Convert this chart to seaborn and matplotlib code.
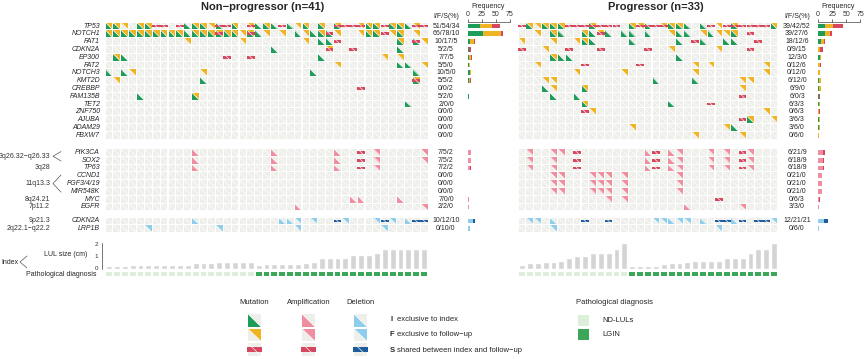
import numpy as np
import seaborn as sns
import matplotlib
matplotlib.use("Agg")
import matplotlib.pyplot as plt
import matplotlib.transforms as mtransforms
from matplotlib.patches import Polygon, Rectangle
from matplotlib.collections import PatchCollection, LineCollection
from matplotlib.colors import ListedColormap

# ---- data -------------------------------------------------------------
genes = ["TP53", "NOTCH1", "FAT1", "CDKN2A", "EP300", "FAT2", "NOTCH3", "KMT2D",
         "CREBBP", "FAM135B", "TET2", "ZNF750", "AJUBA", "ADAM29", "FBXW7",
         "PIK3CA", "SOX2", "TP63", "CCND1", "FGF3/4/19", "MIR548K", "MYC", "EGFR",
         "CDKN2A", "LRP1B"]
kinds = ["mut"] * 15 + ["amp"] * 8 + ["del"] * 2
cytobands = {"3q26.32−q26.33": (15, 16), "3q28": (17, 17), "11q13.3": (18, 20),
             "8q24.21": (21, 21), "7p11.2": (22, 22), "9p21.3": (23, 23),
             "2q22.1−q22.2": (24, 24)}

n_np, n_p = 41, 33

# cell events: "<column><code>"  i=index, f=follow-up, b=both, s=shared,
# j=shared+index, g=shared+follow-up, a=shared+index+follow-up
np_events = [
    "0b 1b 2f 4b 5b 6s 7s 9s 10i 11b 12b 13f 14j 15s 16b 18g 19i 20b 21i 22s 23i 24f 25b 27b 29a 30s 31s 32g 33b 34b 35s 36b 37b 38i 39g 40s",
    "0b 1b 2b 3b 4b 5b 6b 7b 8b 9b 10i 11b 12b 13b 14a 15b 16b 17f 18a 19i 20f 22f 24i 25f 26i 27b 28j 29f 32f 33b 34b 35s 36f 37b 39f",
    "10f 17f 25f 27i 28i 29s 37b 39j 40f",
    "21i 28g 31s 37i",
    "1b 2i 15s 18s 27i 35f 37f",
    "29f 37i 38i 40f",
    "0i 2i 3f 12f 26i 39i",
    "1f 12i 39a",
    "32s",
    "4i 11b",
    "38i",
    "", "", "", "",
    "11i 21i 29i 32s 34f 40f",
    "11i 21i 29i 32s 34f 40f",
    "11i 21i 29i 32s 34f",
    "", "", "",
    "31i 32i 37i",
    "24i 40f",
    "11i 22i 23i 24f 26f 29s 30f 34f 35s 36f 38i 39s 40s",
    "5f 14f 24f 35f",
]
p_events = [
    "0s 1b 2f 3b 4b 5b 6s 7s 8s 9a 10s 11s 12s 14b 15g 16j 17s 18g 19b 20b 21i 23i 24s 25f 26s 27a 28s 29s 30s 31s 32b",
    "2f 4b 5i 8b 9i 10g 11i 13i 14i 16i 19f 20i 21i 23f 24i 25f 26f 27b 29s",
    "0f 4f 7f 8b 9i 14i 20i 22s 23i 26i 27i 30s",
    "0s 3f 6s 10s 16s 19f 25f 29s",
    "4b 5i 6i 20i",
    "2f 8s 15s 22f 24f 31f",
    "7f 13f 22f 31f",
    "3f 4f 17i 22i 28f 29f",
    "3i 4f 8b 28f",
    "4i 7i 28s",
    "8b 19i 24s",
    "8s 9f 31f",
    "28s 29b 32f",
    "14f 26f 27i",
    "22f 28f",
    "1f 4f 5f 7s 16i 17s 19i 20f 24f 26f 28s 29f",
    "1f 4f 7s 16i 17s 19i 20f 24f 26f 28s 29f",
    "1f 4f 7s 16i 17s 19i 20f 24f 26f 28s 29f",
    "4f 5f 9f 10f 11f 13f 20f",
    "4f 5f 9f 10f 11f 13f 20f",
    "4f 5f 9f 10f 11f 13f 20f",
    "11f 13f 25s",
    "21i 28f",
    "1f 2f 4i 8s 11s 17f 18f 19i 20f 21f 23i 25s 26s 27i 28s 30s 31s 32f",
    "4f 25f",
]

np_ifs = ["51/54/34", "66/78/10", "10/17/5", "5/2/5", "7/7/5", "5/5/0", "10/5/0", "5/5/2",
          "0/0/2", "5/2/0", "2/0/0", "0/0/0", "0/0/0", "0/0/0", "0/0/0",
          "7/5/2", "7/5/2", "7/2/2", "0/0/0", "0/0/0", "0/0/0", "7/0/0", "2/2/0",
          "10/12/10", "0/10/0"]
p_ifs = ["39/42/52", "39/27/6", "18/12/6", "0/9/15", "12/3/0", "0/12/6", "0/12/0", "6/12/0",
         "6/9/0", "6/0/3", "6/3/3", "0/6/3", "3/6/3", "3/6/0", "0/6/0",
         "6/21/9", "6/18/9", "6/18/9", "0/21/0", "0/21/0", "0/21/0", "0/6/3", "3/3/0",
         "12/21/21", "0/6/0"]

np_size = [0.18, 0.18, 0.18, 0.31, 0.31, 0.31, 0.31, 0.31, 0.31, 0.31, 0.31,
           0.44, 0.44, 0.44, 0.55, 0.55, 0.55, 0.55, 0.55,
           0.29, 0.34, 0.34, 0.34, 0.34, 0.34, 0.44, 0.52, 0.83, 0.83, 0.83, 0.83,
           1.09, 1.09, 1.09, 1.27, 1.56, 1.56, 1.56, 1.56, 1.56, 1.56]
p_size = [0.31, 0.44, 0.44, 0.52, 0.52, 0.62, 0.83, 1.04, 1.04, 1.22, 1.22, 1.22, 1.56, 2.08,
          0.23, 0.23, 0.23, 0.23, 0.36, 0.44, 0.44, 0.52, 0.57, 0.62, 0.62, 0.62,
          0.83, 0.83, 0.83, 1.22, 1.56, 1.56, 2.08]
np_diag = [0] * 19 + [1] * 22   # 0 = ND-LULs, 1 = LGIN
p_diag = [0] * 14 + [1] * 19

# ---- style ------------------------------------------------------------
palette = {"mut": ("#1E9C5A", "#F0B323", "#D7465F"),
           "amp": ("#EE8E9E", "#EE8E9E", "#D7465F"),
           "del": ("#8ECDEB", "#8ECDEB", "#1F5C9E")}
diag_cmap = ListedColormap(["#DCEFD8", "#3BA657"])
row_pos = list(range(15)) + [16.2 + k for k in range(8)] + [25, 26]

sns.set_style("white")
plt.rcParams["font.family"] = ["Liberation Sans", "DejaVu Sans"]

W, H = 865, 359


def rect(x0, y0, x1, y1):
    return [x0 / W, 1 - y1 / H, (x1 - x0) / W, (y1 - y0) / H]


def parse(spec, n):
    row = ["."] * n
    for tok in spec.split():
        row[int(tok[:-1])] = tok[-1]
    return row


def draw_block(ax, specs, knds, ys, n):
    ins = 0.07
    bg, diag, tris, tri_c, bars, bar_c = [], [], [], [], [], []
    for spec, kd, y in zip(specs, knds, ys):
        ci, cf, cs = palette[kd]
        for c, code in enumerate(parse(spec, n)):
            L, R = c - 0.5 + ins, c + 0.5 - ins
            T, B = y - 0.5 + ins, y + 0.5 - ins
            bg.append(Rectangle((L, T), R - L, B - T))
            diag.append([(L, T), (R, B)])
            if code in "ibja":
                tris.append(Polygon([(L, T), (L, B), (R, B)]))
                tri_c.append(ci)
            if code in "fbga":
                tris.append(Polygon([(L, T), (R, T), (R, B)]))
                tri_c.append(cf)
            if code in "sjga":
                bars.append(Rectangle((c - 0.49, y - 0.18), 0.98, 0.36))
                bar_c.append(cs)
    ax.add_collection(PatchCollection(bg, facecolor="#EEEEEA", edgecolor="none"))
    ax.add_collection(PatchCollection(tris, facecolor=tri_c, edgecolor="none"))
    ax.add_collection(LineCollection(diag, colors="white", linewidths=0.45))
    ax.add_collection(PatchCollection(bars, facecolor=bar_c, edgecolor="none"))


def draw_freq(ax, ifs, n):
    vals = np.array([[round(int(v) * n / 100) for v in s.split("/")] for s in ifs])
    left = np.zeros(len(ifs))
    for k in range(3):
        ax.barh(row_pos, vals[:, k], left=left, height=0.62,
                color=[palette[kd][k] for kd in kinds], linewidth=0)
        left += vals[:, k]
    ax.set_xlim(0, 75)
    ax.set_ylim(26.5, -0.5)
    for side in ["left", "right", "bottom"]:
        ax.spines[side].set_visible(False)
    ax.spines["top"].set_linewidth(0.5)
    ax.spines["top"].set_color("#444444")
    ax.set_xticks([0, 25, 50, 75])
    ax.set_yticks([])
    ax.tick_params(axis="x", top=True, bottom=False, labeltop=True, labelbottom=False,
                   length=2, width=0.5, pad=1, labelsize=5, colors="#333333")


fig = plt.figure(figsize=(W / 100, H / 100), dpi=100)
overlay = fig.add_axes([0, 0, 1, 1])
overlay.set_xlim(0, W)
overlay.set_ylim(H, 0)
overlay.axis("off")

groups = [
    ("Non−progressor (n=41)", n_np, np_events, np_ifs, np_size, np_diag, 105, 467.7, 446, 263),
    ("Progressor (n=33)", n_p, p_events, p_ifs, p_size, p_diag, 518, 818, 797, 656),
]
pitch = 7.88
for title, n, events, ifs, sizes, dg, x0, fx0, ifs_x, tx in groups:
    x1 = x0 + n * pitch
    ax = fig.add_axes(rect(x0, 22.1, x1, 232.7))
    draw_block(ax, events, kinds, row_pos, n)
    ax.set_xlim(-0.5, n - 0.5)
    ax.set_ylim(26.5, -0.5)
    ax.axis("off")
    trans = mtransforms.blended_transform_factory(overlay.transData, ax.transData)

    overlay.text(tx, 6.5, title, ha="center", va="center", fontsize=8, fontweight="bold")
    overlay.text(ifs_x, 16.5, "I/F/S(%)", ha="center", va="center", fontsize=5)
    for lab, y in zip(ifs, row_pos):
        ax.text(ifs_x, y, lab, transform=trans, ha="center", va="center", fontsize=5)

    fax = fig.add_axes(rect(fx0, 22.1, fx0 + 42.3, 232.7))
    draw_freq(fax, ifs, n)
    overlay.text(fx0 + 20, 6.5, "Frequency", ha="center", va="center", fontsize=5)

    bax = fig.add_axes(rect(x0, 242.5, x1, 268.5))
    sns.barplot(x=np.arange(n), y=sizes, ax=bax, color="#D4D4D4", saturation=1,
                width=0.75, errorbar=None)
    bax.set_xlim(-0.5, n - 0.5)
    bax.set_ylim(0, 2.1)
    bax.set_xlabel("")
    bax.set_ylabel("")
    bax.set_xticks([])
    for side in ["top", "right", "bottom"]:
        bax.spines[side].set_visible(False)
    if x0 == 105:
        bax.spines["left"].set_position(("outward", 2))
        bax.spines["left"].set_linewidth(0.5)
        bax.spines["left"].set_color("#444444")
        bax.set_yticks([0, 1, 2])
        bax.tick_params(axis="y", length=2, width=0.5, pad=1, labelsize=4.5, colors="#333333")
    else:
        bax.spines["left"].set_visible(False)
        bax.set_yticks([])

    dax = fig.add_axes(rect(x0, 270.7, x1, 276.7))
    sns.heatmap(np.array([dg]), ax=dax, cmap=diag_cmap, vmin=0, vmax=1, cbar=False,
                linewidths=0.3, linecolor="white", xticklabels=False, yticklabels=False)

    if x0 == 105:
        for g, y in zip(genes, row_pos):
            ax.text(100, y, g, transform=trans, ha="right", va="center",
                    fontsize=5, style="italic")
        for band, (ra, rb) in cytobands.items():
            ya, yb = row_pos[ra], row_pos[rb]
            ax.text(50, (ya + yb) / 2, band, transform=trans, ha="right", va="center",
                    fontsize=5, color="#333333")
            if rb > ra:
                ax.plot([61, 53, 61], [ya - 0.1, (ya + yb) / 2, yb + 0.1], transform=trans,
                        color="#555555", lw=0.5, clip_on=False)

# left labels of annotation tracks
overlay.text(87, 255, "LUL size (cm)", ha="right", va="center", fontsize=5)
overlay.text(96, 274.5, "Pathological diagnosis", ha="right", va="center", fontsize=5)
overlay.text(1, 262, "Index", ha="left", va="center", fontsize=5)
overlay.plot([27, 20, 27], [256, 262, 268], color="#555555", lw=0.5)

# event-type legend
for name, kd, cx in [("Mutation", "mut", 254.5), ("Amplification", "amp", 308.5),
                     ("Deletion", "del", 360.5)]:
    overlay.text(cx, 302, name, ha="center", va="center", fontsize=5.5)
    lax = fig.add_axes(rect(cx - 7.5, 313, cx + 7.5, 357))
    draw_block(lax, ["0i", "0f", "0s"], [kd] * 3, [0, 1, 2], 1)
    lax.set_xlim(-0.5, 0.5)
    lax.set_ylim(2.5, -0.5)
    lax.axis("off")
for key, desc, y in [("I", "exclusive to index", 319.5), ("F", "exclusive to follow−up", 335),
                     ("S", "shared between index and follow−up", 350.5)]:
    overlay.text(392, y, key, ha="center", va="center", fontsize=5.5, fontweight="bold")
    overlay.text(397, y, desc, ha="left", va="center", fontsize=5.5)

# diagnosis legend
overlay.text(576, 302, "Pathological diagnosis", ha="left", va="center", fontsize=5.5)
gax = fig.add_axes(rect(576, 313, 590, 341))
sns.heatmap(np.array([[0], [1]]), ax=gax, cmap=diag_cmap, vmin=0, vmax=1, cbar=False,
            linewidths=0.8, linecolor="white", xticklabels=False, yticklabels=False)
overlay.text(602, 320, "ND-LULs", ha="left", va="center", fontsize=5.5)
overlay.text(602, 334.5, "LGIN", ha="left", va="center", fontsize=5.5)

fig.savefig("out.png", dpi=100)
